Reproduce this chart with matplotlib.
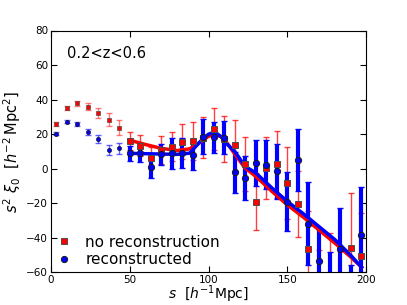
import numpy as np
import matplotlib
matplotlib.use("Agg")
import matplotlib.pyplot as plt

# bin centres (30 bins of width 200/30)
s = (np.arange(30) + 0.5) * 200.0 / 30

# no reconstruction
xi_pre = [26.0, 35.0, 37.8, 36.0, 32.0, 28.4, 23.8,
          16.2, 13.3, 6.4, 11.0, 12.8, 15.6, 15.8, 18.0, 23.0, 17.3,
          13.6, 2.6, -19.0, 0.3, 2.6, -8.3, -20.6, -46.3, -62.0, -62.0,
          -68.0, -45.7, -50.5]
err_pre = [1.0, 1.2, 1.5, 2.2, 2.9, 3.8, 4.3,
           5.2, 6.0, 6.0, 8.0, 8.6, 10.0, 11.0, 12.0, 12.0, 13.4,
           14.7, 15.5, 16.7, 18.0, 19.5, 21.0, 19.0, 22.0, 15.0, 25.0,
           22.0, 31.4, 25.0]

# reconstructed
xi_post = [20.2, 27.3, 26.0, 21.0, 17.0, 10.8, 11.8,
           8.9, 8.9, 1.0, 8.4, 9.0, 9.0, 8.0, 18.5, 18.3, 18.0,
           -2.1, -5.3, 3.2, 2.4, -1.6, -19.0, 5.1, -31.8, -53.6, -66.0,
           -46.7, -76.0, -38.2]
err_post = [0.8, 1.0, 1.3, 1.7, 2.3, 2.9, 3.3,
            4.5, 5.0, 6.2, 6.0, 9.0, 8.6, 8.6, 10.0, 9.0, 9.5,
            11.7, 12.8, 13.2, 14.4, 16.0, 17.0, 18.0, 24.0, 18.8, 18.0,
            24.0, 20.0, 27.4]

# best-fit model curves
s_model = [50, 60, 70, 80, 88, 95, 100, 104, 108, 112, 117, 123, 130, 140,
           150, 160, 170, 180, 190, 197]
model_pre = [16.5, 14.0, 11.8, 10.5, 11.5, 15.5, 18.8, 19.8, 18.5, 14.5,
             8.0, 0.5, -4.5, -13.0, -21.0, -28.0, -35.5, -43.0, -51.0, -57.0]
model_post = [8.9, 8.7, 8.5, 8.3, 9.0, 16.0, 20.0, 21.2, 18.5, 14.0,
              9.5, 1.5, -2.5, -11.0, -19.0, -26.0, -33.5, -41.0, -50.0, -57.0]

s = np.array(s)
xi_pre, err_pre = np.array(xi_pre), np.array(err_pre)
xi_post, err_post = np.array(xi_post), np.array(err_post)
lo = s < 50
hi = ~lo

fig, ax = plt.subplots(figsize=(4.07, 3.05), dpi=100)
fig.subplots_adjust(left=0.125, right=0.9, bottom=0.107, top=0.9)

# error bars
ax.errorbar(s[lo], xi_pre[lo], yerr=err_pre[lo], fmt='none', ecolor='red',
            elinewidth=1, capsize=2.5, alpha=0.5, zorder=1)
ax.errorbar(s[hi], xi_pre[hi], yerr=err_pre[hi], fmt='none', ecolor='red',
            elinewidth=1, capsize=2.5, alpha=0.75, zorder=1)
ax.errorbar(s[lo], xi_post[lo], yerr=err_post[lo], fmt='none', ecolor='blue',
            elinewidth=1, capsize=2.5, alpha=0.6, zorder=2)
ax.errorbar(s[hi], xi_post[hi], yerr=err_post[hi], fmt='none', ecolor='blue',
            elinewidth=3, capsize=2.5, zorder=2)

# models
ax.plot(s_model, model_pre, color='red', lw=2.5, zorder=3)
ax.plot(s_model, model_post, color='blue', lw=2.5, zorder=3)

# markers
ax.plot(s[lo], xi_pre[lo], 's', color='red', mec='0.3', ms=3, mew=0.5, zorder=4)
ax.plot(s[hi], xi_pre[hi], 's', color='red', mec='0.3', ms=5, mew=0.7, zorder=4)
ax.plot(s[lo], xi_post[lo], 'o', color='blue', mec='0.1', ms=3, mew=0.5, zorder=4)
ax.plot(s[hi], xi_post[hi], 'o', color='blue', mec='0.1', ms=4.5, mew=0.7, zorder=4)

# legend handles
ax.plot([], [], 's', color='red', mec='0.3', ms=5, mew=0.7, label='no reconstruction')
ax.plot([], [], 'o', color='blue', mec='0.1', ms=4.5, mew=0.7, label='reconstructed')
ax.legend(loc='lower left', frameon=False, numpoints=1, fontsize=11,
          handletextpad=0.9, borderaxespad=0.05, labelspacing=0.15,
          handlelength=1.0, borderpad=0.3)

ax.text(0.05, 0.935, '0.2<z<0.6', transform=ax.transAxes, fontsize=10.5,
        va='top', ha='left')

ax.set_xlim(0, 200)
ax.set_ylim(-60, 80)
ax.set_xticks([0, 50, 100, 150, 200])
ax.set_yticks(np.arange(-60, 81, 20))
ax.tick_params(direction='in', labelsize=7.5, length=4, pad=2, top=True, right=True)
ax.set_xlabel(r'$s$  [$h^{-1}$Mpc]', fontsize=10, labelpad=-1)
ax.set_ylabel(r'$s^2\ \xi_0\ \ [h^{-2}\,\mathrm{Mpc}^2]$', fontsize=10.5, labelpad=2)

fig.savefig('out.png', dpi=100)
